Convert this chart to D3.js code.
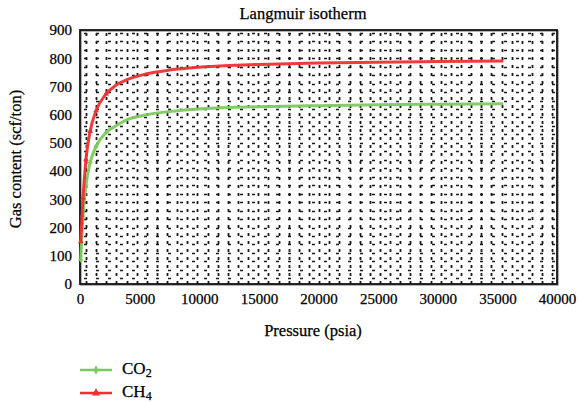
<!DOCTYPE html>
<html>
<head>
<meta charset="utf-8">
<script src="https://cdn.jsdelivr.net/npm/d3@7"></script>
<style>
  html, body { margin: 0; padding: 0; background: #fff; }
  svg { display: block; font-family: "Liberation Serif", "DejaVu Serif", serif; }
</style>
</head>
<body>
<svg id="chart" width="579" height="402"></svg>
<script>
// Pressure (psia) at which gas content was sampled
const pressure = [60, 250, 500, 850, 1350, 2200, 3000, 4000, 5500, 7500, 10000, 12500, 15000, 20000, 25000, 30000, 35500];
// Adsorbed gas content (scf/ton)
const co2Content = [85, 240, 350, 430, 488, 537, 560, 583, 599, 611, 620, 625, 628, 632, 635, 637, 639];
const ch4Content = [150, 304, 441, 541, 614, 674, 704, 725, 744, 758, 768, 774, 778, 783, 786, 788, 790];
const xTicks = [0, 5000, 10000, 15000, 20000, 25000, 30000, 35000, 40000];
const yTicks = [0, 100, 200, 300, 400, 500, 600, 700, 800, 900];

const series = [
  { name: "CO", sub: "2", values: co2Content, color: "#7dc95e", marker: "x" },
  { name: "CH", sub: "4", values: ch4Content, color: "#ee3030", marker: "tri" }
];

const svg = d3.select("#chart");
const plotLeft = 80, plotRight = 557, plotTop = 30, plotBottom = 284;

const x = d3.scaleLinear().domain([0, 40000]).range([plotLeft, plotRight]);
const y = d3.scaleLinear().domain([0, 900]).range([plotBottom, plotTop]);

// dense dashed grid
const grid = svg.append("g").attr("stroke", "#1a1a1a");
grid.selectAll("line.v").data(d3.range(500, 40000, 850)).join("line")
  .attr("class", "v")
  .attr("x1", d => Math.round(x(d)) + 0.5).attr("x2", d => Math.round(x(d)) + 0.5)
  .attr("y1", plotTop + 3).attr("y2", plotBottom)
  .attr("stroke-width", 1.8)
  .attr("stroke-dasharray", "3,5");
grid.selectAll("line.h").data(d3.range(20, 900, 30)).join("line")
  .attr("class", "h")
  .attr("x1", plotLeft + 4).attr("x2", plotRight)
  .attr("y1", d => Math.round(y(d)) + 0.5).attr("y2", d => Math.round(y(d)) + 0.5)
  .attr("stroke-dasharray", "3,9")
  .attr("stroke-width", 1.6);

// plot frame
svg.append("rect")
  .attr("x", plotLeft + 1).attr("y", plotTop + 1)
  .attr("width", plotRight - plotLeft).attr("height", plotBottom - plotTop)
  .attr("fill", "none").attr("stroke", "#999").attr("stroke-width", 1.5);
svg.append("rect")
  .attr("x", plotLeft).attr("y", plotTop)
  .attr("width", plotRight - plotLeft).attr("height", plotBottom - plotTop)
  .attr("fill", "none").attr("stroke", "#111").attr("stroke-width", 1.8);

// axes
const xAxis = svg.append("g").attr("transform", `translate(0,${plotBottom})`)
  .call(d3.axisBottom(x).tickValues(xTicks).tickSize(0).tickPadding(9).tickFormat(d3.format("d")));
const yAxis = svg.append("g").attr("transform", `translate(${plotLeft},0)`)
  .call(d3.axisLeft(y).tickValues(yTicks).tickSize(0).tickPadding(8).tickFormat(d3.format("d")));
[xAxis, yAxis].forEach(a => {
  a.select(".domain").remove();
  a.selectAll("text").attr("font-family", "Liberation Serif, serif").attr("font-size", 15)
    .attr("fill", "#000").attr("stroke", "#000").attr("stroke-width", 0.25);
});

// lines
const line = d3.line().x((d, i) => x(pressure[i])).y(d => y(d)).curve(d3.curveMonotoneX);
const triangle = d3.symbol().type(d3.symbolTriangle).size(14);
const cross = d3.symbol().type(d3.symbolCross).size(12);
series.forEach(s => {
  svg.append("path").datum(s.values)
    .attr("d", line).attr("fill", "none")
    .attr("stroke", s.color).attr("stroke-width", 3).attr("stroke-opacity", 0.95);
  svg.append("g").selectAll("path").data(s.values.slice(0, 6)).join("path")
    .attr("transform", (d, i) => `translate(${x(pressure[i])},${y(d)})`)
    .attr("d", s.marker === "tri" ? triangle : cross)
    .attr("fill", s.color);
});

// title and axis labels
const labelStyle = t => t.attr("font-size", 16.5).attr("fill", "#000")
  .attr("stroke", "#000").attr("stroke-width", 0.25).attr("text-anchor", "middle");
svg.append("text").attr("x", 303).attr("y", 19).call(labelStyle).text("Langmuir isotherm");
svg.append("text").attr("x", 313).attr("y", 336).call(labelStyle).text("Pressure (psia)");
svg.append("text").attr("transform", "translate(21,159) rotate(-90)").call(labelStyle)
  .text("Gas content (scf/ton)");

// legend
const legend = svg.append("g");
series.forEach((s, i) => {
  const ly = 370 + i * 23;
  legend.append("line").attr("x1", 80).attr("x2", 112).attr("y1", ly).attr("y2", ly)
    .attr("stroke", s.color).attr("stroke-width", 2.5);
  legend.append("path").attr("transform", `translate(96,${ly})`)
    .attr("d", s.marker === "tri" ? d3.symbol().type(d3.symbolTriangle).size(30) : d3.symbol().type(d3.symbolCross).size(30))
    .attr("fill", s.color);
  const t = legend.append("text").attr("x", 122).attr("y", ly + 4)
    .attr("font-size", 17).attr("fill", "#000").attr("stroke", "#000").attr("stroke-width", 0.25);
  t.append("tspan").text(s.name);
  t.append("tspan").attr("font-size", 12).attr("dy", 2.5).text(s.sub);
});
</script>
</body>
</html>
